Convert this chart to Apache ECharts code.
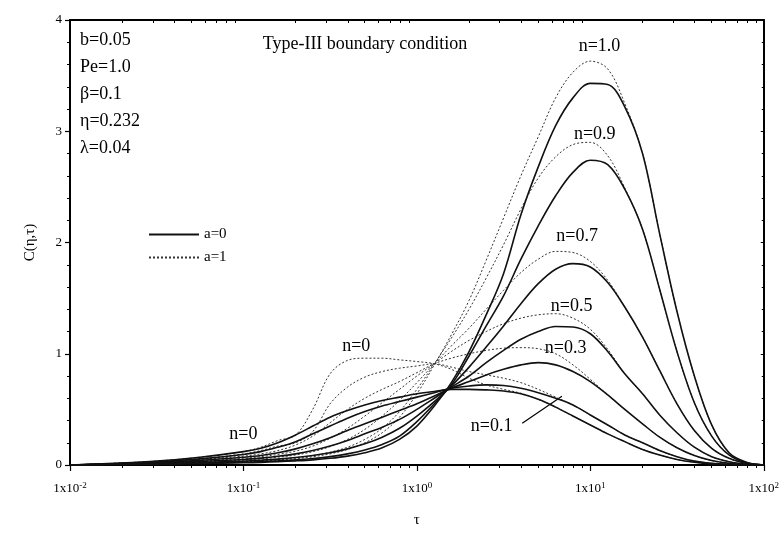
<!DOCTYPE html>
<html><head><meta charset="utf-8">
<script src="https://cdn.jsdelivr.net/npm/echarts@6/dist/echarts.min.js"></script>
<style>html,body{margin:0;padding:0;background:#fff}#c{width:782px;height:533px}</style>
</head><body><div id="c"></div>
<script>
// tau grid (log spaced, read positions)
const tau = [0.01, 0.0178, 0.0316, 0.0562, 0.1, 0.126, 0.158, 0.2, 0.251, 0.316, 0.398, 0.501, 0.631, 0.794, 1, 1.26, 1.58, 2, 2.51, 3.16, 3.98, 5.01, 6.31, 7.94, 10, 12.6, 15.8, 20, 25.1, 31.6, 39.8, 50.1, 63.1, 79.4, 100];
// a=0 (solid)
const s_n0  = [0, 0.015, 0.035, 0.07, 0.12, 0.15, 0.2, 0.27, 0.35, 0.43, 0.49, 0.54, 0.58, 0.61, 0.64, 0.66, 0.68, 0.68, 0.675, 0.665, 0.64, 0.59, 0.52, 0.44, 0.36, 0.28, 0.21, 0.14, 0.09, 0.05, 0.025, 0.01, 0.004, 0, 0];
const s_n01 = [0, 0.012, 0.028, 0.055, 0.095, 0.12, 0.16, 0.21, 0.28, 0.35, 0.42, 0.48, 0.53, 0.57, 0.61, 0.65, 0.69, 0.71, 0.72, 0.715, 0.69, 0.65, 0.6, 0.54, 0.45, 0.36, 0.27, 0.2, 0.13, 0.075, 0.035, 0.015, 0.005, 0, 0];
const s_n03 = [0, 0.01, 0.022, 0.042, 0.07, 0.085, 0.11, 0.145, 0.19, 0.245, 0.31, 0.37, 0.43, 0.49, 0.55, 0.62, 0.69, 0.75, 0.81, 0.86, 0.9, 0.92, 0.9, 0.84, 0.75, 0.63, 0.5, 0.37, 0.25, 0.155, 0.085, 0.04, 0.015, 0.004, 0];
const s_n05 = [0, 0.008, 0.018, 0.032, 0.05, 0.062, 0.078, 0.1, 0.13, 0.17, 0.22, 0.28, 0.34, 0.41, 0.5, 0.6, 0.7, 0.8, 0.92, 1.03, 1.13, 1.2, 1.245, 1.24, 1.18, 1.02, 0.82, 0.64, 0.45, 0.29, 0.16, 0.075, 0.03, 0.008, 0];
const s_n07 = [0, 0.006, 0.013, 0.023, 0.035, 0.043, 0.053, 0.067, 0.085, 0.11, 0.145, 0.19, 0.25, 0.33, 0.44, 0.57, 0.71, 0.88, 1.06, 1.25, 1.45, 1.63, 1.76, 1.81, 1.78, 1.64, 1.42, 1.15, 0.85, 0.55, 0.31, 0.15, 0.06, 0.015, 0];
const s_n09 = [0, 0.005, 0.01, 0.017, 0.025, 0.03, 0.037, 0.046, 0.058, 0.075, 0.1, 0.135, 0.185, 0.26, 0.39, 0.55, 0.72, 0.98, 1.25, 1.52, 1.85, 2.15, 2.42, 2.63, 2.74, 2.7, 2.48, 2.12, 1.58, 1.02, 0.56, 0.26, 0.09, 0.02, 0];
const s_n10 = [0, 0.004, 0.008, 0.013, 0.02, 0.024, 0.03, 0.037, 0.046, 0.06, 0.08, 0.11, 0.155, 0.23, 0.35, 0.53, 0.74, 1.02, 1.35, 1.72, 2.25, 2.68, 3.05, 3.3, 3.43, 3.42, 3.22, 2.8, 2.08, 1.38, 0.8, 0.36, 0.11, 0.025, 0];
// a=1 (dotted)
const d_n0  = [0, 0.015, 0.035, 0.07, 0.12, 0.16, 0.22, 0.27, 0.5, 0.82, 0.94, 0.96, 0.96, 0.945, 0.93, 0.91, 0.86, 0.78, 0.72, 0.68, 0.645, 0.59, 0.52, 0.44, 0.36, 0.28, 0.21, 0.14, 0.09, 0.05, 0.025, 0.01, 0.004, 0, 0];
const d_n01 = [0, 0.012, 0.028, 0.055, 0.1, 0.13, 0.17, 0.2, 0.3, 0.55, 0.7, 0.79, 0.84, 0.87, 0.89, 0.91, 0.88, 0.84, 0.81, 0.78, 0.74, 0.68, 0.61, 0.54, 0.45, 0.36, 0.27, 0.2, 0.13, 0.075, 0.035, 0.015, 0.005, 0, 0];
const d_n03 = [0, 0.01, 0.025, 0.05, 0.08, 0.1, 0.13, 0.18, 0.26, 0.38, 0.5, 0.6, 0.68, 0.75, 0.83, 0.91, 0.96, 1.0, 1.03, 1.05, 1.055, 1.045, 1.0, 0.9, 0.77, 0.63, 0.5, 0.37, 0.25, 0.155, 0.085, 0.04, 0.015, 0.004, 0];
const d_n05 = [0, 0.008, 0.018, 0.035, 0.06, 0.075, 0.095, 0.125, 0.17, 0.24, 0.33, 0.44, 0.56, 0.68, 0.8, 0.91, 1.02, 1.12, 1.2, 1.27, 1.32, 1.35, 1.36, 1.32, 1.22, 1.04, 0.82, 0.64, 0.45, 0.29, 0.16, 0.075, 0.03, 0.008, 0];
const d_n07 = [0, 0.006, 0.013, 0.025, 0.045, 0.055, 0.07, 0.09, 0.12, 0.165, 0.23, 0.32, 0.44, 0.58, 0.74, 0.91, 1.07, 1.23, 1.4, 1.57, 1.73, 1.85, 1.92, 1.91, 1.83, 1.66, 1.42, 1.15, 0.85, 0.55, 0.31, 0.15, 0.06, 0.015, 0];
const d_n09 = [0, 0.005, 0.01, 0.018, 0.035, 0.042, 0.052, 0.066, 0.085, 0.115, 0.16, 0.23, 0.33, 0.48, 0.68, 0.91, 1.14, 1.4, 1.68, 1.98, 2.3, 2.58, 2.77, 2.88, 2.9, 2.78, 2.49, 2.12, 1.58, 1.02, 0.56, 0.26, 0.09, 0.02, 0];
const d_n10 = [0, 0.004, 0.008, 0.015, 0.03, 0.036, 0.045, 0.057, 0.074, 0.1, 0.14, 0.2, 0.29, 0.43, 0.64, 0.9, 1.17, 1.48, 1.84, 2.22, 2.6, 2.95, 3.3, 3.53, 3.63, 3.56, 3.25, 2.8, 2.08, 1.38, 0.8, 0.36, 0.11, 0.025, 0];

const xMajor = [0.01, 0.1, 1, 10, 100];
const yTicks = [0, 1, 2, 3, 4];
const params = ['b=0.05', 'Pe=1.0', 'β=0.1', 'η=0.232', 'λ=0.04'];
// curve labels in data coordinates [text, tau, C]
const curveLabels = [
  ['n=1.0', 11.3, 3.76], ['n=0.9', 10.6, 2.97], ['n=0.7', 8.4, 2.06],
  ['n=0.5', 7.8, 1.43], ['n=0.3', 7.2, 1.05], ['n=0.1', 2.7, 0.35],
  ['n=0', 0.447, 1.07], ['n=0', 0.1, 0.28]
];
const pointer = [[4.05, 0.376], [6.86, 0.617]];

const SERIF = '"Liberation Serif","Times New Roman",serif';
const solidList = [s_n0, s_n01, s_n03, s_n05, s_n07, s_n09, s_n10];
const dottedList = [d_n0, d_n01, d_n03, d_n05, d_n07, d_n09, d_n10];

function mk(name, arr, dotted) {
  return {
    type: 'line', name: name, data: tau.map((t, i) => [t, arr[i]]),
    symbol: 'none', smooth: 0.35, silent: true, animation: false,
    lineStyle: dotted ? {color: '#333', width: 1, type: [2, 2]} : {color: '#111', width: 1.6},
    itemStyle: {color: dotted ? '#333' : '#111'}, z: dotted ? 2 : 3
  };
}
const minorX = [];
[0.01, 0.1, 1, 10].forEach(d => { for (let k = 2; k <= 9; k++) minorX.push(+(d * k).toPrecision(3)); });

const series = [];
dottedList.forEach(a => series.push(mk('a=1', a, true)));
solidList.forEach(a => series.push(mk('a=0', a, false)));

const chart = echarts.init(document.getElementById('c'));
const axisLine = {show: true, lineStyle: {color: '#000', width: 2}};
chart.setOption({
  animation: false,
  backgroundColor: '#fff',
  grid: {left: 70, right: 14, top: 20, bottom: 66},
  legend: {
    data: ['a=0', 'a=1'], orient: 'vertical', left: 143, top: 222,
    itemWidth: 50, itemHeight: 10, itemGap: 8, selectedMode: false,
    itemStyle: {opacity: 0},
    textStyle: {fontFamily: SERIF, fontSize: 15, color: '#000'}
  },
  xAxis: [
    {type: 'log', logBase: 10, min: 0.01, max: 100, position: 'bottom',
     axisLine: axisLine, splitLine: {show: false},
     axisTick: {show: true, length: 6, customValues: xMajor, lineStyle: {color: '#000', width: 1.2}},
     axisLabel: {customValues: xMajor, margin: 16, color: '#000', fontFamily: SERIF, fontSize: 13,
       formatter: v => '1x10{s|' + Math.round(Math.log10(v)) + '}',
       rich: {s: {fontFamily: SERIF, fontSize: 9, verticalAlign: 'top', color: '#000', padding: [0, 0, 6, 0]}}},
     name: 'τ', nameLocation: 'middle', nameGap: 48,
     nameTextStyle: {fontFamily: SERIF, fontSize: 15, color: '#000'}},
    {type: 'log', logBase: 10, min: 0.01, max: 100, position: 'bottom',
     axisLine: {show: false}, splitLine: {show: false}, axisLabel: {show: false},
     axisTick: {show: true, length: 3, customValues: minorX, lineStyle: {color: '#000', width: 1}}},
    {type: 'log', logBase: 10, min: 0.01, max: 100, position: 'top',
     axisLine: axisLine, splitLine: {show: false}, axisLabel: {show: false},
     axisTick: {show: true, inside: true, length: 3, customValues: minorX, lineStyle: {color: '#000', width: 1}}}
  ],
  yAxis: [
    {type: 'value', min: 0, max: 4, interval: 1, position: 'left',
     axisLine: axisLine, splitLine: {show: false},
     axisTick: {show: true, length: 5, lineStyle: {color: '#000', width: 1.2}},
     minorTick: {show: true, splitNumber: 5, length: 3, lineStyle: {color: '#000'}},
     axisLabel: {color: '#000', fontFamily: SERIF, fontSize: 13, margin: 8,
       customValues: yTicks},
     name: 'C(η,τ)', nameLocation: 'middle', nameGap: 32, nameRotate: 90,
     nameTextStyle: {fontFamily: SERIF, fontSize: 15, color: '#000'}},
    {type: 'value', min: 0, max: 4, interval: 1, position: 'right',
     axisLine: axisLine, splitLine: {show: false}, axisLabel: {show: false},
     axisTick: {show: true, inside: true, length: 3, lineStyle: {color: '#000'}},
     minorTick: {show: true, splitNumber: 5, length: 2, lineStyle: {color: '#000'}}}
  ],
  series: series
});

const P = (t, c) => chart.convertToPixel({xAxisIndex: 0, yAxisIndex: 0}, [t, c]);
const g = [];
const fontL = '18px ' + SERIF;
curveLabels.forEach(l => {
  const p = P(l[1], l[2]);
  g.push({type: 'text', x: p[0], y: p[1], silent: true,
    style: {text: l[0], font: fontL, fill: '#000', align: 'center', verticalAlign: 'middle'}});
});
const p1 = P(pointer[0][0], pointer[0][1]), p2 = P(pointer[1][0], pointer[1][1]);
g.push({type: 'line', silent: true, shape: {x1: p1[0], y1: p1[1], x2: p2[0], y2: p2[1]},
  style: {stroke: '#000', lineWidth: 1.2}});
params.forEach((s, i) => {
  g.push({type: 'text', x: 80, y: 40 + i * 27, silent: true,
    style: {text: s, font: fontL, fill: '#000', align: 'left', verticalAlign: 'middle'}});
});
g.push({type: 'text', x: 365, y: 44, silent: true,
  style: {text: 'Type-III boundary condition', font: fontL, fill: '#000', align: 'center', verticalAlign: 'middle'}});
chart.setOption({graphic: g});
</script>
</body></html>
